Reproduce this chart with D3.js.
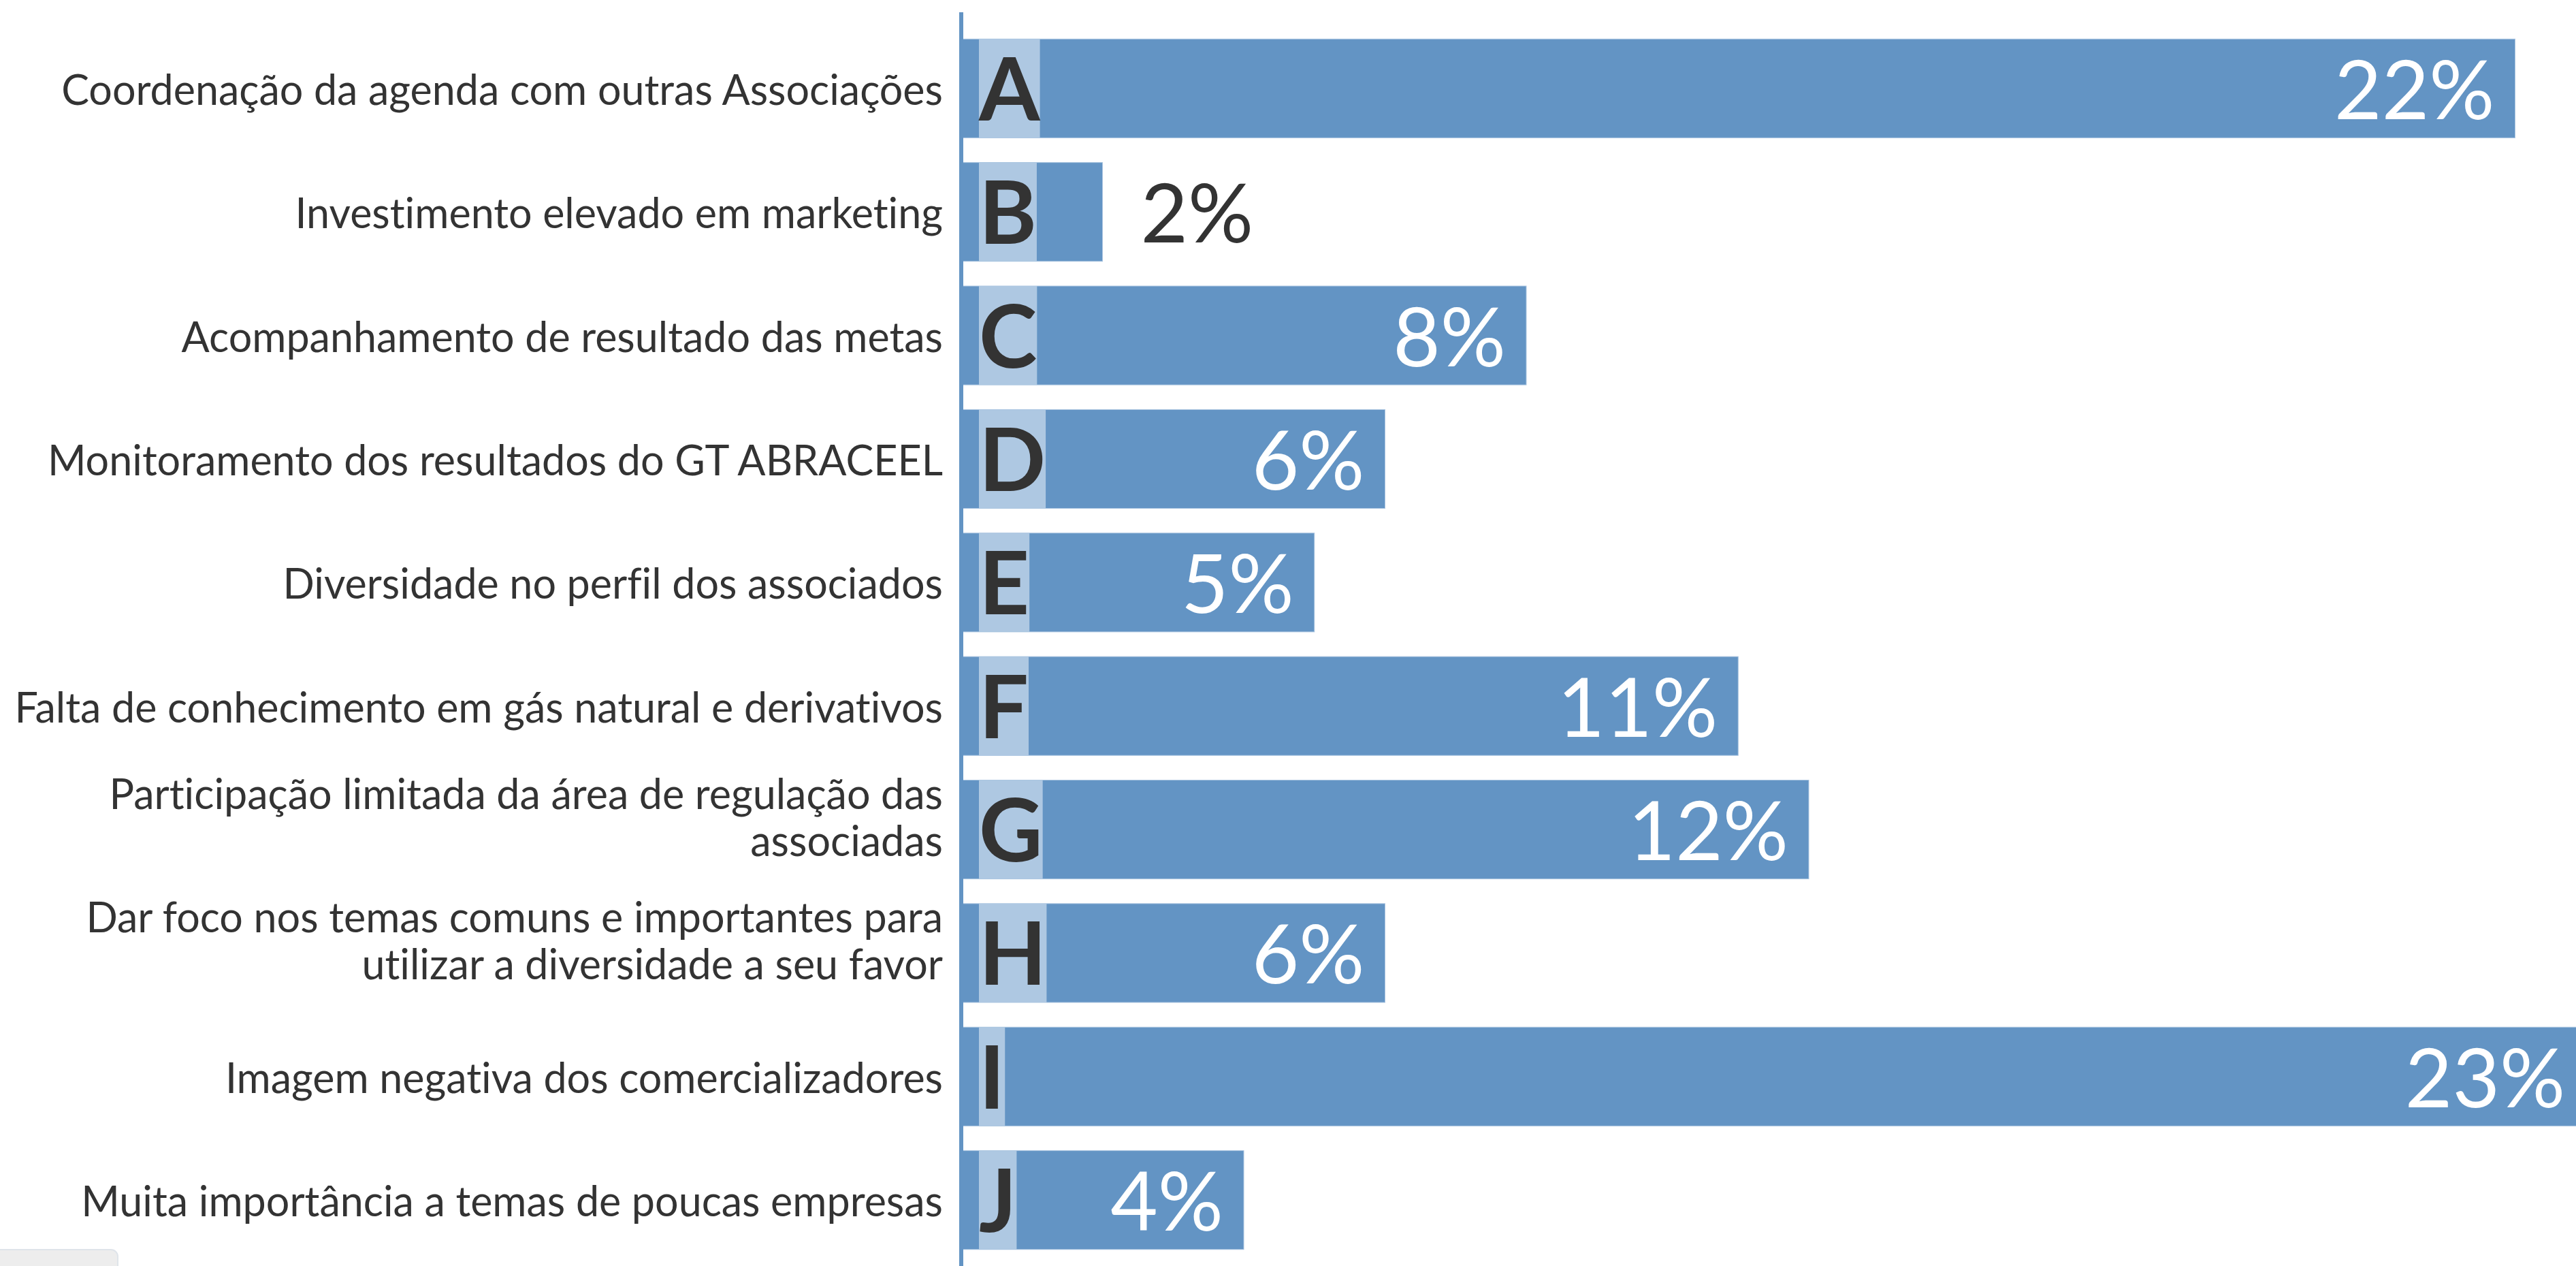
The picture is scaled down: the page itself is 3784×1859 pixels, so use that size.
<!DOCTYPE html>
<html>
<head>
<meta charset="utf-8">
<script src="https://cdn.jsdelivr.net/npm/d3@7"></script>
<style>
  body { margin: 0; background: #fff; overflow: hidden; }
  svg { display: block; font-family: Lato, "Open Sans", sans-serif; font-variant-ligatures: none; }
</style>
</head>
<body>
<div id="chart"></div>
<script>
// categories, letters and values (%)
const categories = [
    "Coordenação da agenda com outras Associações",
    "Investimento elevado em marketing",
    "Acompanhamento de resultado das metas",
    "Monitoramento dos resultados do GT ABRACEEL",
    "Diversidade no perfil dos associados",
    "Falta de conhecimento em gás natural e derivativos",
    "Participação limitada da área de regulação das\nassociadas",
    "Dar foco nos temas comuns e importantes para\nutilizar a diversidade a seu favor",
    "Imagem negativa dos comercializadores",
    "Muita importância a temas de poucas empresas",
];
const letters = ["A", "B", "C", "D", "E", "F", "G", "H", "I", "J"];
const values = [22, 2, 8, 6, 5, 11, 12, 6, 23, 4];

const width = 3784;
const height = 1859;
const x0 = 1412;

const barColor = "#6394c4";
const lightColor = "#aec8e2";
const textColor = "#333333";

const svg = d3
    .select("#chart")
    .append("svg")
    .attr("width", width)
    .attr("height", height);

const x = d3.scaleLinear().domain([0, 23]).range([x0, x0 + 23 * 103.75]);

const y = d3
    .scaleBand()
    .domain(letters)
    .range([21, 1871])
    .paddingInner(0.2)
    .paddingOuter(0.2);

const rows = letters.map((l, i) => ({ letter: l, cat: categories[i], value: values[i] }));

// bars
svg.append("g")
    .selectAll("rect")
    .data(rows)
    .enter()
    .append("rect")
    .attr("x", x(0))
    .attr("y", (d) => y(d.letter))
    .attr("width", (d) => x(d.value) - x(0))
    .attr("height", y.bandwidth())
    .style("fill", barColor)
    .style("stroke", "#a9c4e0")
    .style("stroke-width", 1);

// letter boxes + letters
const letterG = svg.append("g").selectAll("g").data(rows).enter().append("g");

letterG
    .append("text")
    .attr("x", x(0) + 26)
    .attr("y", (d) => y(d.letter) + y.bandwidth() / 2 + 47)
    .style("font-size", "129px")
    .style("font-weight", 700)
    .style("fill", textColor)
    .text((d) => d.letter);

letterG
    .insert("rect", "text")
    .attr("x", x(0) + 26)
    .attr("y", (d) => y(d.letter))
    .attr("height", y.bandwidth())
    .attr("width", function () {
        return d3.select(this.parentNode).select("text").node().getComputedTextLength();
    })
    .style("fill", lightColor);

// value labels
svg.append("g")
    .selectAll("text")
    .data(rows)
    .enter()
    .append("text")
    .attr("x", (d) => (d.value < 3 ? x(d.value) + 56 : x(d.value) - 30))
    .attr("y", (d) => y(d.letter) + y.bandwidth() / 2 + 45)
    .attr("text-anchor", (d) => (d.value < 3 ? "start" : "end"))
    .style("font-size", "120px")
    .style("fill", (d) => (d.value < 3 ? textColor : "#ffffff"))
    .text((d) => d.value + "%");

// category labels
const catText = svg
    .append("g")
    .selectAll("text")
    .data(rows)
    .enter()
    .append("text")
    .attr("text-anchor", "end")
    .style("font-size", "61px")
    .style("fill", textColor);

catText.each(function (d) {
    const lines = d.cat.split("\n");
    const c = y(d.letter) + y.bandwidth() / 2;
    const first = c + 24 - (lines.length - 1) * 54;
    lines.forEach((ln, i) => {
        d3.select(this)
            .append("tspan")
            .attr("x", 1385)
            .attr("y", first + i * 69)
            .text(ln);
    });
});

// axis line
svg.append("line")
    .attr("x1", x0)
    .attr("x2", x0)
    .attr("y1", 18)
    .attr("y2", height)
    .style("stroke", barColor)
    .style("stroke-width", 6);

// small grey tab in bottom-left corner
svg.append("rect")
    .attr("x", -20)
    .attr("y", 1835)
    .attr("width", 193)
    .attr("height", 60)
    .attr("rx", 10)
    .style("fill", "#ededed")
    .style("stroke", "#dfe4ea")
    .style("stroke-width", 2);
</script>
</body>
</html>
